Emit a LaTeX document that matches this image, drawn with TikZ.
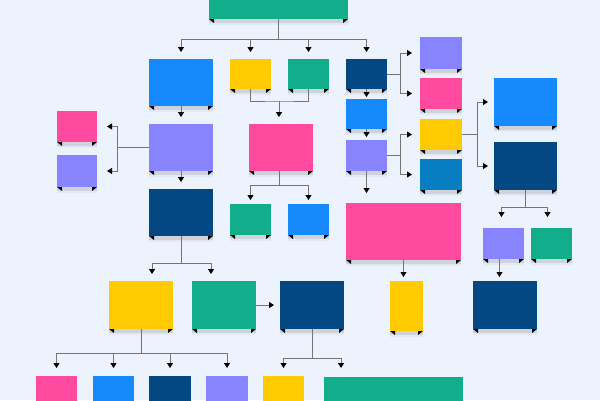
\documentclass[tikz,border=0pt]{standalone}
\usetikzlibrary{arrows.meta,shadows,calc}
\definecolor{bgblue}{HTML}{ECF3FD}
\definecolor{cgreen}{HTML}{12AE8C}
\definecolor{cblue}{HTML}{1689FC}
\definecolor{cyellow}{HTML}{FFCB00}
\definecolor{cnavy}{HTML}{034883}
\definecolor{cpink}{HTML}{FF4AA0}
\definecolor{cpurple}{HTML}{8884FF}
\definecolor{cteal}{HTML}{087EC2}
\definecolor{cline}{HTML}{747474}

\tikzset{
    card/.style n args={3}{fill=#1, minimum width=#2pt, minimum height=#3pt,
        inner sep=0pt, outer sep=0pt, anchor=north west,
        drop shadow={shadow xshift=0pt, shadow yshift=-6pt, fill=black!60, opacity=0.07},
        drop shadow={shadow xshift=0pt, shadow yshift=-3.5pt, fill=black!60, opacity=0.16}},
    wire/.style={draw=cline, line width=0.9pt},
    link/.style={wire, -{Triangle[length=5pt, width=6pt, color=black]}, shorten >=7pt}
}

\begin{document}
\begin{tikzpicture}[x=1pt, y=-1pt]
    \useasboundingbox (0,0) rectangle (600,400);
    \fill[bgblue] (0,0) rectangle (600,400);
    \clip (0,0) rectangle (600,400);

    % Верхній блок
    \node[card={cgreen}{139}{30}] (top) at (209,-11) {};

    % Перший рівень
    \node[card={cblue}{64}{47}] (blueA) at (149,59) {};
    \node[card={cyellow}{41}{30}] (yelA) at (230,59) {};
    \node[card={cgreen}{41}{30}] (grnA) at (288,59) {};
    \node[card={cnavy}{41}{30}] (navA) at (346,59) {};

    % Права колонка
    \node[card={cpurple}{42}{32}] (purR) at (420,37) {};
    \node[card={cpink}{42}{31}] (pinkR) at (420,78) {};
    \node[card={cblue}{41}{30}] (blueB) at (346,99) {};
    \node[card={cpurple}{41}{31}] (purB) at (346,140) {};
    \node[card={cyellow}{42}{31}] (yelR) at (420,119) {};
    \node[card={cteal}{42}{31}] (tealR) at (420,159) {};
    \node[card={cblue}{63}{48}] (blueR) at (494,78) {};
    \node[card={cnavy}{63}{48}] (navR) at (494,142) {};

    % Ліва гілка
    \node[card={cpurple}{64}{47}] (purA) at (149,124) {};
    \node[card={cpink}{40}{31}] (pinkL) at (57,111) {};
    \node[card={cpurple}{40}{32}] (purL) at (57,155) {};
    \node[card={cnavy}{64}{47}] (navB) at (149,189) {};

    % Центр
    \node[card={cpink}{64}{47}] (pinkA) at (249,124) {};
    \node[card={cgreen}{41}{31}] (grnB) at (230,204) {};
    \node[card={cblue}{41}{31}] (blueC) at (288,204) {};
    \node[card={cpink}{115}{57}] (pinkB) at (346,203) {};
    \node[card={cyellow}{33}{50}] (yelN) at (390,281) {};

    % Права нижня гілка
    \node[card={cpurple}{41}{31}] (purS) at (483,228) {};
    \node[card={cgreen}{41}{31}] (grnS) at (531,228) {};
    \node[card={cnavy}{64}{48}] (navS) at (473,281) {};

    % Нижній рівень
    \node[card={cyellow}{64}{48}] (yelB) at (109,281) {};
    \node[card={cgreen}{64}{48}] (grnC) at (192,281) {};
    \node[card={cnavy}{64}{48}] (navC) at (280,281) {};
    \node[card={cpink}{41}{35}] (botA) at (36,376) {};
    \node[card={cblue}{41}{35}] (botB) at (93,376) {};
    \node[card={cnavy}{42}{35}] (botC) at (149,376) {};
    \node[card={cpurple}{42}{35}] (botD) at (206,376) {};
    \node[card={cyellow}{41}{35}] (botE) at (263,376) {};
    \node[card={cgreen}{139}{35}] (botF) at (324,377) {};

    % Кутики
    \foreach \n in {top,blueA,yelA,grnA,navA,purR,pinkR,blueB,purB,yelR,tealR,blueR,navR,
                    purA,pinkL,purL,navB,pinkA,grnB,blueC,pinkB,yelN,purS,grnS,navS,
                    yelB,grnC,navC} {
        \fill[black] (\n.south west) -- ++(5,0) -- ++(0,4) -- cycle;
        \fill[black] (\n.south east) -- ++(-5,0) -- ++(0,4) -- cycle;
    }

    % Зв'язки
    \foreach \n in {blueA,yelA,grnA,navA}
        \draw[link] (top.south) -- ++(0,20) -| (\n.north);
    \draw[link] (blueA.south) -- (purA.north);
    \coordinate (jA) at (279,101);
    \draw[wire] (yelA.south) |- (jA) -| (grnA.south);
    \draw[link] (jA) -- (jA |- pinkA.north);
    \foreach \n in {pinkL,purL}
        \draw[link, shorten >=10pt] (purA.west) -- ++(-32,0) |- (\n.east);
    \draw[link] (purA.south) -- (navB.north);
    \foreach \n in {grnB,blueC}
        \draw[link, shorten >=4pt] ([xshift=-2pt]pinkA.south) -- ++(0,14) -| (\n.north);
    \foreach \n in {purR,pinkR}
        \draw[link, shorten >=8pt] (navA.east) -- ++(13,0) |- (\n.west);
    \draw[link, shorten >=2pt] (navA.south) -- (blueB.north);
    \draw[link, shorten >=3pt] (blueB.south) -- (purB.north);
    \foreach \n in {yelR,tealR}
        \draw[link, shorten >=8pt] (purB.east) -- ++(13,0) |- (\n.west);
    \foreach \n in {blueR,navR}
        \draw[link, shorten >=6pt] (yelR.east) -- ++(15,0) |- (\n.west);
    \draw[link, shorten >=10pt] (purB.south) -- (purB.south |- pinkB.north);
    \draw[link, shorten >=4pt] (pinkB.south) -- (pinkB.south |- yelN.north);
    \draw[link, shorten >=11pt] (navR.south) -- ++(0,17) -| ([xshift=-2pt]purS.north);
    \draw[link, shorten >=11pt] (navR.south) -- ++(0,17) -| ([xshift=-4pt]grnS.north);
    \draw[link, shorten >=4pt] ([xshift=-4pt]purS.south) -- ([xshift=-4pt]purS.south |- navS.north);
    \draw[link] (navB.south) -- ++(0,27) -| ([xshift=11pt]yelB.north);
    \draw[link] (navB.south) -- ++(0,27) -| ([xshift=-13pt]grnC.north);
    \draw[link, shorten >=6pt] (grnC.east |- 0,305) -- (navC.west |- 0,305);
    \foreach \n in {botA,botB,botC,botD}
        \draw[link, shorten >=8pt] (yelB.south) -- ++(0,24) -| (\n.north);
    \draw[link, shorten >=8pt] (navC.south) -- ++(0,29) -| (botE.north);
    \draw[link, shorten >=9pt] (navC.south) -- ++(0,29) -| ([xshift=17pt]botF.north west);
\end{tikzpicture}
\end{document}
